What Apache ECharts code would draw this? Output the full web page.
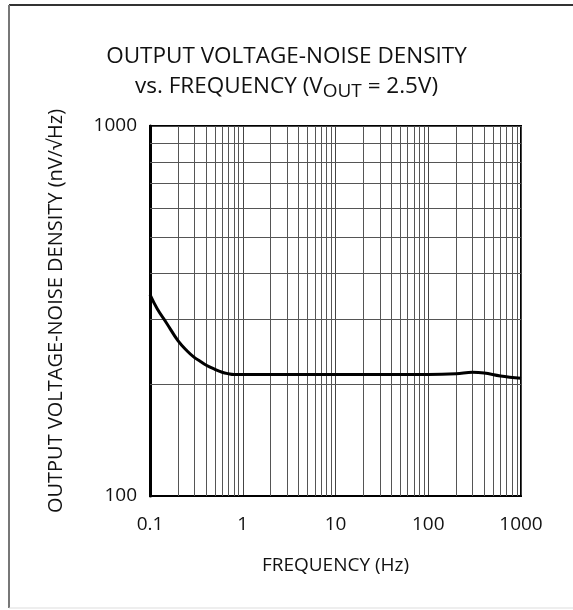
<!DOCTYPE html>
<html lang="en">
<head>
    <meta charset="UTF-8">
    <title>Output voltage-noise density vs frequency</title>
    <style>
        html, body { margin: 0; padding: 0; background: #fff; }
        #chart { width: 573px; height: 610px; }
    </style>
</head>
<body>
    <div id="chart"></div>
    <script src="https://cdn.jsdelivr.net/npm/echarts@6/dist/echarts.min.js"></script>
    <script>
        // curve
        var freq = [0.1, 0.12, 0.15, 0.2, 0.25, 0.3, 0.35, 0.4, 0.5, 0.6, 0.7, 0.8, 1, 2, 10, 100, 200, 300, 400, 600, 1000];
        var noise = [350, 320, 294, 263, 247, 237, 231, 226, 220, 216, 214, 213, 213, 213, 213, 213, 214, 216, 215, 211, 208];

        var xTicks = [0.1, 1, 10, 100, 1000];
        var yTicks = [100, 1000];
        // minor log grid lines
        var xMinor = [0.2, 0.3, 0.4, 0.5, 0.6, 0.7, 0.8, 0.9,
                      2, 3, 4, 5, 6, 7, 8, 9,
                      20, 30, 40, 50, 60, 70, 80, 90,
                      200, 300, 400, 500, 600, 700, 800, 900];
        var yMinor = [200, 300, 400, 500, 600, 700, 800, 900];

        var font = '"Open Sans", "Noto Sans", sans-serif';
        var textColor = '#111';
        var chart = echarts.init(document.getElementById('chart'));

        var minorLines = [];
        xMinor.forEach(function (v) { minorLines.push({ xAxis: v }); });
        yMinor.forEach(function (v) { minorLines.push({ yAxis: v }); });

        var option = {
            animation: false,
            graphic: [
                { type: 'line', shape: { x1: 9, y1: 5, x2: 573, y2: 5 }, style: { stroke: '#333', lineWidth: 2 } },
                { type: 'line', shape: { x1: 9, y1: 5, x2: 9, y2: 608 }, style: { stroke: '#777', lineWidth: 2 } },
                { type: 'line', shape: { x1: 9, y1: 608, x2: 573, y2: 608 }, style: { stroke: '#ddd', lineWidth: 1 } }
            ],
            title: {
                text: 'OUTPUT VOLTAGE-NOISE DENSITY\nvs. FREQUENCY (V{sub|OUT} = 2.5V)',
                left: 'center',
                top: 37,
                padding: [5, 5, 5, 16],
                textStyle: {
                    fontFamily: font,
                    fontSize: 22.5,
                    fontWeight: 'normal',
                    color: textColor,
                    lineHeight: 30,
                    rich: {
                        sub: { fontFamily: font, fontSize: 19, color: textColor, padding: [9, 0, 0, 0] }
                    }
                }
            },
            grid: {
                left: 150,
                right: 52,
                top: 126,
                bottom: 114,
                show: true,
                borderColor: '#000',
                borderWidth: 2,
                backgroundColor: '#fff'
            },
            xAxis: {
                type: 'log',
                logBase: 10,
                min: 0.1,
                max: 1000,
                name: 'FREQUENCY (Hz)',
                nameLocation: 'middle',
                nameGap: 60,
                nameTextStyle: { fontFamily: font, fontSize: 19, color: textColor },
                axisLine: { show: true, lineStyle: { color: '#000', width: 2 } },
                axisTick: { show: false },
                axisLabel: {
                    margin: 19,
                    fontFamily: font,
                    fontSize: 19,
                    color: textColor,
                    formatter: function (v) { return xTicks.indexOf(+v) >= 0 ? String(v) : ''; }
                },
                splitLine: { show: true, lineStyle: { color: '#444', width: 1 } }
            },
            yAxis: {
                type: 'log',
                logBase: 10,
                min: 100,
                max: 1000,
                name: 'OUTPUT VOLTAGE-NOISE DENSITY (nV/√Hz)',
                nameLocation: 'middle',
                nameGap: 84,
                nameTextStyle: { fontFamily: font, fontSize: 20, color: textColor },
                axisLine: { show: true, lineStyle: { color: '#000', width: 3 } },
                axisTick: { show: false },
                axisLabel: {
                    margin: 13,
                    fontFamily: font,
                    fontSize: 19,
                    color: textColor,
                    formatter: function (v) { return yTicks.indexOf(+v) >= 0 ? String(v) : ''; }
                },
                splitLine: { show: true, lineStyle: { color: '#444', width: 1 } }
            },
            series: [
                {
                    type: 'line',
                    data: [],
                    silent: true,
                    z: 1,
                    markLine: {
                        silent: true,
                        symbol: 'none',
                        label: { show: false },
                        animation: false,
                        lineStyle: { type: 'solid', color: '#555', width: 1 },
                        data: minorLines
                    }
                },
                {
                    type: 'line',
                    data: freq.map(function (f, i) { return [f, noise[i]]; }),
                    smooth: 0.4,
                    showSymbol: false,
                    z: 5,
                    lineStyle: { color: '#000', width: 3 }
                }
            ]
        };
        chart.setOption(option);
    </script>
</body>
</html>
